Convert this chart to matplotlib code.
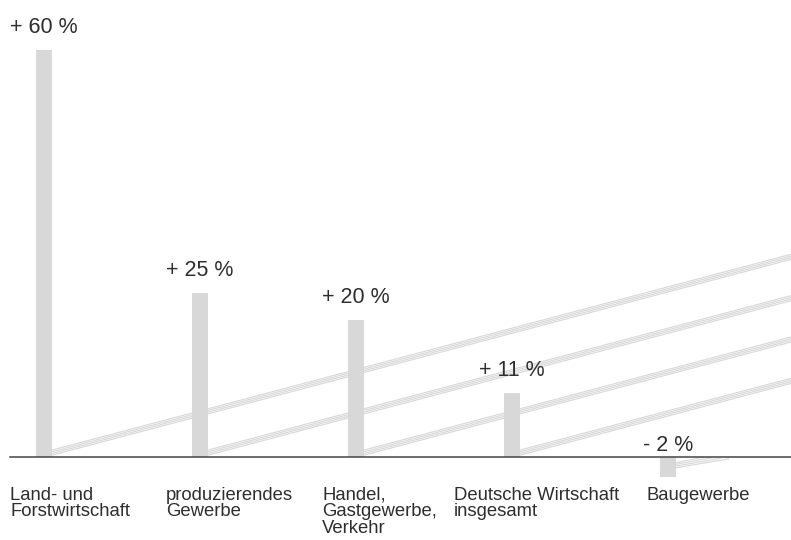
import numpy as np
import matplotlib
matplotlib.use('Agg')
import matplotlib.pyplot as plt

plt.rcParams['font.family'] = ['Liberation Sans', 'DejaVu Sans']

# Daten
categories = ["Land- und\nForstwirtschaft", "produzierendes\nGewerbe",
              "Handel,\nGastgewerbe,\nVerkehr", "Deutsche Wirtschaft\ninsgesamt",
              "Baugewerbe"]
pct_labels = ["+ 60 %", "+ 25 %", "+ 20 %", "+ 11 %", "- 2 %"]
values = [60, 24.2, 20.2, 9.4, -2.9]   # Balkenhöhen

BAR_C = "#d8d8d8"
LINE_C = "#d9d9d9"
TXT_C = "#2e2e2e"

W, H, DPI = 791, 540, 100
PX_X = 156.0     # Pixel pro Kategorie
PX_Y = 6.78      # Pixel pro Prozentpunkt

fig = plt.figure(figsize=(W / DPI, H / DPI), dpi=DPI)
ax = fig.add_axes([0, 0, 1, 1])
x0 = -44 / PX_X
y0 = -83 / PX_Y
ax.set_xlim(x0, x0 + W / PX_X)
ax.set_ylim(y0, y0 + H / PX_Y)
ax.axis('off')

x = np.arange(len(values))
bw = 16 / PX_X
ax.bar(x, values, width=bw, color=BAR_C, zorder=3)

# Nulllinie
ax.plot([x0 + 10 / PX_X, x0 + W / PX_X], [0, 0], color="#444444", lw=1.1, zorder=4)

# schräge Linienbündel hinter den Balken
slope = 0.265 * PX_X / PX_Y
x_end = x0 + W / PX_X
for xi, v in zip(x, values):
    xs = xi + bw / 2
    if v >= 0:
        for k in range(4):
            ys = (1.8 + 1.7 * k) / PX_Y
            ax.plot([xs, x_end], [ys, ys + slope * (x_end - xs)],
                    color=LINE_C, lw=0.85, zorder=1, solid_capstyle='butt')
    else:
        for k in range(4):
            ys = v * 0.55 + (1.7 * k) / PX_Y
            xe = xs + (0 - ys) / slope * 1.3
            ax.plot([xs, xe], [ys, 0 - (0.6 * (3 - k)) / PX_Y],
                    color=LINE_C, lw=0.85, zorder=1, solid_capstyle='butt')

# Prozentwerte
for xi, v, lab in zip(x, values, pct_labels):
    off = 17 if v >= 0 else 6
    ax.annotate(lab, (xi, max(v, 0)), xytext=(0, off), textcoords='offset pixels',
                ha='center', va='baseline', fontsize=15.5, color=TXT_C, zorder=5)

# Kategorien
label_dx = [-34, -34, -34, -58, -22]
for xi, cat, dx in zip(x, categories, label_dx):
    ax.annotate(cat, (xi, 0), xytext=(dx, -30), textcoords='offset pixels',
                ha='left', va='top', fontsize=13.3, color=TXT_C,
                linespacing=0.95, zorder=5)

fig.savefig("out.png", dpi=DPI)
